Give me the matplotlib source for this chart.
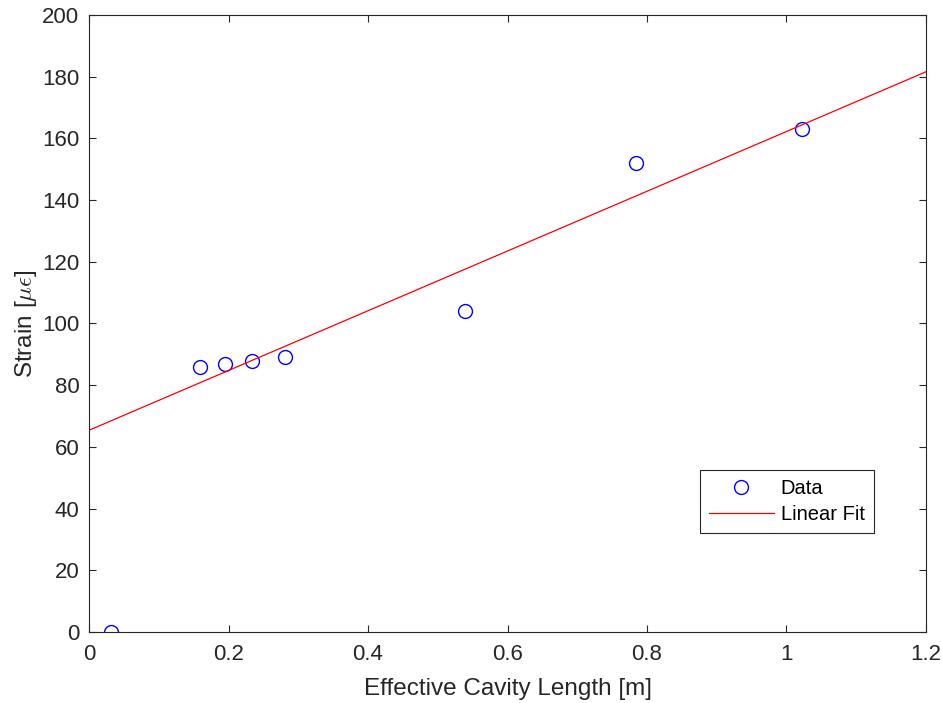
import numpy as np
import matplotlib.pyplot as plt

plt.rcParams['font.family'] = ['Liberation Sans', 'DejaVu Sans']
plt.rcParams['mathtext.fontset'] = 'cm'

# effective cavity length [m] and strain [micro-strain]
cavity_len = [0.0315, 0.159, 0.195, 0.234, 0.281, 0.539, 0.784, 1.022]
strain = [0, 86, 87, 88, 89, 104, 152, 163]

# linear fit skips the zero point
p = np.polyfit(cavity_len[1:], strain[1:], 1)
xfit = np.array([0, 1.2])

fig = plt.figure(figsize=(9.42, 7.03), dpi=100)
ax = fig.add_axes([0.0945, 0.101, 0.8885, 0.8777])

ax.plot(cavity_len, strain, 'o', mfc='none', mec='blue', ms=10, mew=1.0, label='Data')
ax.plot(xfit, np.polyval(p, xfit), '-', color='red', lw=0.9, label='Linear Fit')

ax.set_xlim(0, 1.2)
ax.set_ylim(0, 200)
ax.set_xticks(np.arange(0, 1.21, 0.2))
ax.set_xticklabels(['0', '0.2', '0.4', '0.6', '0.8', '1', '1.2'])
ax.set_yticks(np.arange(0, 201, 20))
ax.tick_params(direction='in', top=True, right=True, labelsize=16, colors='#262626', length=5)
ax.tick_params(axis='x', pad=9)
ax.tick_params(axis='y', pad=7)
for s in ax.spines.values():
    s.set_color('#262626')
    s.set_linewidth(0.8)

ax.set_xlabel('Effective Cavity Length [m]', fontsize=17.5, color='#262626', labelpad=9)
ax.set_ylabel(r'Strain [$\mu\epsilon$]', fontsize=17.5, color='#262626', labelpad=2)

leg = ax.legend(loc='upper left', bbox_to_anchor=(0.730, 0.2626), fontsize=14.5,
                fancybox=False, edgecolor='#262626', framealpha=1, borderpad=0.45,
                handlelength=3.2, handletextpad=0.35, borderaxespad=0, labelspacing=0.35)
leg.get_frame().set_linewidth(0.8)

fig.savefig('out.png', dpi=100)
